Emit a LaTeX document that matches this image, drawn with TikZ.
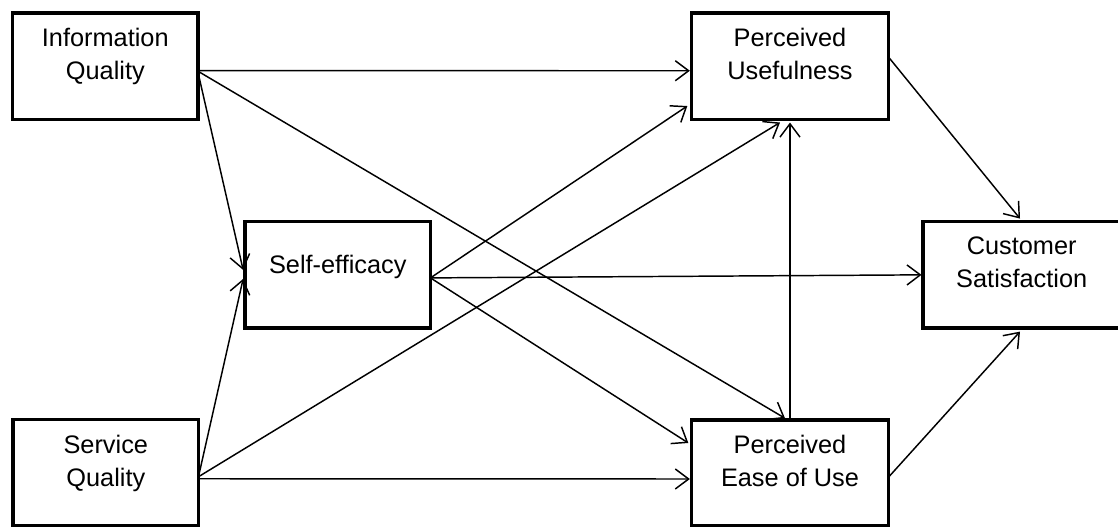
\documentclass[tikz,border=0pt]{standalone}
\usepackage{fontspec}
\setmainfont{Liberation Sans}
\usetikzlibrary{arrows.meta,calc}
\begin{document}
\begin{tikzpicture}[x=0.75pt,y=-0.75pt,
  sbox/.style={draw,line width=2.7pt,fill=white,minimum width=139pt,minimum height=79.9pt,inner sep=0pt,outer sep=0pt},
  wbox/.style={draw,line width=2.7pt,fill=white,minimum width=148pt,minimum height=79.9pt,inner sep=0pt,outer sep=0pt},
  txt/.style={anchor=north,inner sep=0pt,align=center,font=\fontsize{19}{24.75}\selectfont},
  conn/.style={line width=1.1pt,-{Straight Barb[length=10pt,width=15pt,line width=1.1pt]}}]
\clip (0,0) rectangle (1118,527);
% boxes
\node[sbox] (iq) at (105.3,66.2) {};
\node[sbox] (sq) at (105.8,472.75) {};
\node[sbox] (se) at (337.8,274.9) {};
\node[wbox] (pu) at (790,66.25) {};
\node[wbox] (peou) at (790,473) {};
\node[wbox] (cs) at (1021.7,274.85) {};
% texts
\node[txt] (iqt) at ($(iq.north)+(0,15)$) {Information\\Quality};
\node[txt] (sqt) at ($(sq.north)+(0,15)$) {Service\\Quality};
\node[txt] (set) at ($(se.north)+(0,33)$) {Self-efficacy};
\node[txt] (put) at ($(pu.north)+(0,15)$) {Perceived\\Usefulness};
\node[txt] (peout) at ($(peou.north)+(0,15)$) {Perceived\\Ease of Use};
\node[txt] (cst) at ($(cs.north)+(0,15)$) {Customer\\Satisfaction};
% connectors
\draw[conn] ($(iq.east)+(0,4.5)$) -- ($(pu.west)+(-1.5,4.5)$);
\draw[conn] ($(iq.east)+(0,5)$) -- ($(peou.north)+(-5,-1.5)$);
\draw[conn] ($(iq.east)+(0,6)$) -- ($(se.west)+(-2,-5)$);
\draw[conn] ($(sq.east)+(0,4)$) -- ($(se.west)+(-2,4)$);
\draw[conn] ($(sq.east)+(0,4)$) -- ($(pu.south)+(-10,3)$);
\draw[conn] ($(sq.east)+(0,6)$) -- ($(peou.west)+(-1.5,6)$);
\draw[conn] ($(se.east)+(0,3)$) -- ($(pu.south west)+(-4,-13.5)$);
\draw[conn] ($(se.east)+(0,3)$) -- ($(cs.west)+(-1.5,0)$);
\draw[conn] ($(se.east)+(0,3)$) -- ($(peou.west)+(-3,-30)$);
\draw[conn] (peou.north) -- ($(pu.south)+(0,3)$);
\draw[conn] ($(pu.east)+(0,-9)$) -- ($(cs.north)+(-1.7,-3)$);
\draw[conn] ($(peou.east)+(0,4)$) -- ($(cs.south)+(-1.7,3.5)$);
\end{tikzpicture}
\end{document}
